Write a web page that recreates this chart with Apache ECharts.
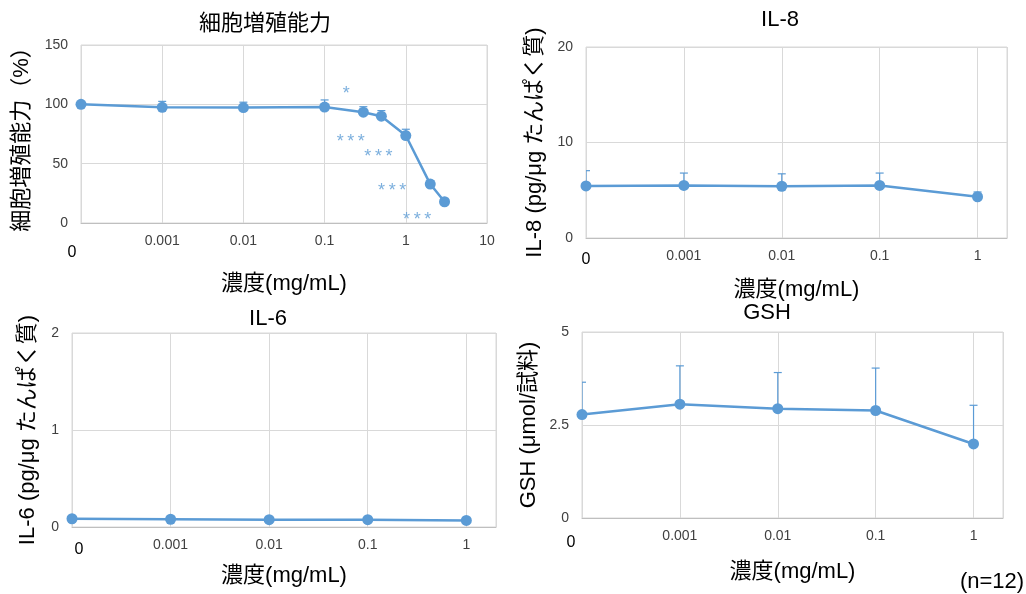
<!DOCTYPE html>
<html>
<head>
<meta charset="utf-8">
<script src="https://cdn.jsdelivr.net/npm/echarts@6/dist/echarts.min.js"></script>
<style>
html,body{margin:0;padding:0;background:#fff;}
#c{width:1026px;height:594px;}
</style>
</head>
<body>
<div id="c"></div>
<script>
// ---- data ----
// concentration "0" is drawn at the left end of the log axis (1e-4)
const conc1 = [0.0001, 0.001, 0.01, 0.1, 0.3, 0.5, 1, 2, 3];
const prolif = [100, 97.5, 97.3, 97.7, 93.4, 90, 73.7, 32.8, 17.9];
const prolifErr = [0, 5, 4.5, 6, 4.6, 4.7, 5.3, 3, 2];
const sigX = [0.185, 0.21, 0.46, 0.68, 1.38];
const sigY = [113, 72.8, 59.4, 30.8, 6.4];
const sigText = ['*', '*\u2009*\u2009*', '*\u2009*\u2009*', '*\u2009*\u2009*', '*\u2009*\u2009*'];

const conc2 = [0.0001, 0.001, 0.01, 0.1, 1];
const il8 = [5.45, 5.5, 5.42, 5.5, 4.32];
const il8Err = [1.6, 1.3, 1.3, 1.3, 0.5];
const il6 = [0.085, 0.08, 0.075, 0.075, 0.068];
const il6Err = [0.03, 0.02, 0.02, 0.02, 0.02];
const gsh = [2.78, 3.06, 2.94, 2.89, 1.99];
const gshErr = [0.87, 1.03, 0.97, 1.14, 1.04];

const tickLabels = {'-3': '0.001', '-2': '0.01', '-1': '0.1', '0': '1', '1': '10'};
const titles = ['細胞増殖能力', 'IL-8', 'IL-6', 'GSH'];
const yNames = ['細胞増殖能力（%）', 'IL-8 (pg/μg たんぱく質)', 'IL-6 (pg/μg たんぱく質)', 'GSH (μmol/試料)'];
const xName = '濃度(mg/mL)';
const zeroLabel = '0';
const nLabel = '(n=12)';

// ---- chart ----
const BLUE = '#5b9bd5';
const GRID_C = '#d9d9d9';
const LAT = '"Liberation Sans", Arial, sans-serif';
const JP = '"Liberation Sans", "Noto Sans CJK JP", sans-serif';

const grids = [
  {left: 81, top: 45, width: 406, height: 178},
  {left: 586, top: 47, width: 421, height: 191},
  {left: 72, top: 333, width: 424, height: 194},
  {left: 582, top: 332, width: 421, height: 186}
];
const xMax = [10, 2, 2, 2];
const yCfg = [[0,150,50],[0,20,10],[0,2,1],[0,5,2.5]];
const xNameGap = [50, 41, 38, 43];
const yNameGap = [48, 40, 33, 42];

function xAxisFor(i){
  return {
    type: 'log', gridIndex: i, logBase: 10, min: 0.0001, max: xMax[i],
    name: xName, nameLocation: 'middle', nameGap: xNameGap[i],
    nameTextStyle: {fontSize: 22, color: '#000', fontFamily: JP},
    axisLine: {show: true, lineStyle: {color: '#bfbfbf', width: 1}},
    axisTick: {show: false},
    axisLabel: {
      fontSize: 14, color: '#404040', fontFamily: LAT, margin: 11,
      formatter: function(v){
        const e = Math.round(Math.log10(v));
        if (Math.abs(Math.log10(v) - e) > 1e-6) return '';
        return tickLabels[String(e)] || '';
      }
    },
    splitLine: {show: true, lineStyle: {color: GRID_C, width: 1}},
    minorTick: {show: false}, minorSplitLine: {show: false}
  };
}
function yAxisFor(i){
  return {
    type: 'value', gridIndex: i, min: yCfg[i][0], max: yCfg[i][1], interval: yCfg[i][2],
    name: yNames[i], nameLocation: 'middle', nameGap: yNameGap[i], nameRotate: 90,
    nameTextStyle: {fontSize: 22, color: '#000', fontFamily: JP},
    axisLine: {show: false}, axisTick: {show: false},
    axisLabel: {fontSize: 14, color: '#404040', fontFamily: LAT, margin: 13},
    splitLine: {show: true, lineStyle: {color: GRID_C, width: 1}}
  };
}
function pairs(xs, ys){ return xs.map((x,k)=>[x, ys[k]]); }
function lineSeries(i, xs, ys){
  return {
    type: 'line', xAxisIndex: i, yAxisIndex: i, data: pairs(xs, ys),
    symbol: 'circle', symbolSize: 11, z: 3,
    lineStyle: {color: BLUE, width: 2.5}, itemStyle: {color: BLUE},
    animation: false, silent: true
  };
}
function errSeries(i, xs, ys, es){
  return {
    type: 'custom', xAxisIndex: i, yAxisIndex: i, clip: true, z: 2,
    data: xs.map((x,k)=>[x, ys[k], es[k]]),
    renderItem: function(params, api){
      const x = api.value(0), y = api.value(1), e = api.value(2);
      if (!e) return null;
      const p0 = api.coord([x, y]);
      const p1 = api.coord([x, y + e]);
      const st = {stroke: BLUE, lineWidth: 1.2};
      return {type: 'group', children: [
        {type: 'line', shape: {x1: p0[0], y1: p0[1], x2: p1[0], y2: p1[1]}, style: st},
        {type: 'line', shape: {x1: p1[0]-4, y1: p1[1], x2: p1[0]+4, y2: p1[1]}, style: st}
      ]};
    },
    animation: false, silent: true
  };
}

const titleCenters = [[265, 24], [780, 20], [268, 319], [767, 313]];
const zeroPos = [[72, 253], [586, 260], [79, 550], [571, 543]];

const graphic = [];
titles.forEach((t, i) => {
  graphic.push({type: 'text', x: titleCenters[i][0], y: titleCenters[i][1],
    style: {text: t, fontSize: 22, fill: '#000', fontFamily: JP, align: 'center', verticalAlign: 'middle'}});
});
zeroPos.forEach(p => {
  graphic.push({type: 'text', x: p[0], y: p[1],
    style: {text: zeroLabel, fontSize: 16, fill: '#000', fontFamily: LAT, align: 'center', verticalAlign: 'middle'}});
});
graphic.push({type: 'text', x: 992, y: 582,
  style: {text: nLabel, fontSize: 22, fill: '#000', fontFamily: LAT, align: 'center', verticalAlign: 'middle'}});

const option = {
  backgroundColor: '#fff',
  animation: false,
  grid: grids.map(g => Object.assign({show: true, borderColor: GRID_C, borderWidth: 1, backgroundColor: 'transparent'}, g)),
  xAxis: [0,1,2,3].map(xAxisFor),
  yAxis: [0,1,2,3].map(yAxisFor),
  graphic: graphic,
  series: [
    errSeries(0, conc1, prolif, prolifErr),
    lineSeries(0, conc1, prolif),
    {
      type: 'scatter', xAxisIndex: 0, yAxisIndex: 0, symbolSize: 0, z: 4,
      data: pairs(sigX, sigY),
      label: {show: true, position: 'inside', offset: [0, 5], color: BLUE, fontSize: 18, fontFamily: LAT,
        formatter: p => sigText[p.dataIndex]},
      silent: true
    },
    errSeries(1, conc2, il8, il8Err),
    lineSeries(1, conc2, il8),
    errSeries(2, conc2, il6, il6Err),
    lineSeries(2, conc2, il6),
    errSeries(3, conc2, gsh, gshErr),
    lineSeries(3, conc2, gsh)
  ]
};
const chart = echarts.init(document.getElementById('c'), null, {renderer: 'canvas'});
chart.setOption(option);
</script>
</body>
</html>
